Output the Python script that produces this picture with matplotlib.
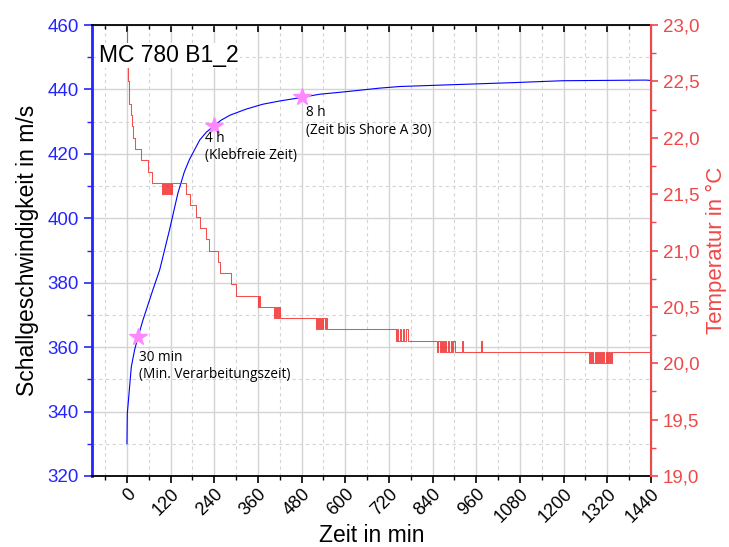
import matplotlib.pyplot as plt
from matplotlib.ticker import MultipleLocator, FuncFormatter

# Schallgeschwindigkeit (m/s) over time (min)
speed_time = [0, 1, 5, 12, 21, 30, 44, 62, 71, 90, 117, 140, 158, 172, 200, 218,
              236, 258, 283, 328, 373, 419, 474, 529, 602, 694, 749, 877, 1059, 1197, 1426, 1438]
speed_val = [330.0, 339.4, 344.6, 353.9, 359.1, 363.0, 368.4, 374.6, 377.7, 384.0,
             396.4, 407.8, 414.5, 418.3, 424.3, 426.7, 428.4, 430.4, 432.0, 433.9, 435.4, 436.4,
             437.4, 438.5, 439.3, 440.4, 440.9, 441.4, 442.1, 442.7, 442.9, 442.8]

# Temperatur (degC), sensor steps (step-post)
temp_time = [0, 1, 2, 3, 5, 7, 10, 14, 17, 21, 40, 58, 70,
             96, 98, 100, 103, 105, 108, 110, 113, 116, 119, 121, 124,
             161, 172, 190, 200, 218, 225, 250, 255, 287, 300,
             359, 361, 362, 364, 365,
             405, 407, 409, 411, 413, 415, 417, 419, 421, 424,
             520, 522, 525, 528, 531, 534, 537, 540, 544, 547, 551,
             740, 743, 746, 750, 754, 758, 762, 766, 771,
             853, 856, 859, 862, 865, 868, 871, 874, 878, 882, 886, 890, 893, 897, 901, 905,
             922, 924, 973, 975,
             1270, 1273, 1276, 1279, 1282, 1285, 1288, 1291, 1294, 1297, 1300, 1303,
             1306, 1309, 1312, 1315, 1318, 1321, 1324, 1327, 1330, 1334, 1440]
temp_val = [22.95, 22.7, 22.6, 22.5, 22.4, 22.3, 22.2, 22.1, 22.0, 21.9, 21.8, 21.7, 21.6,
            21.5, 21.6, 21.5, 21.6, 21.5, 21.6, 21.5, 21.6, 21.5, 21.6, 21.5, 21.6,
            21.5, 21.4, 21.3, 21.2, 21.1, 21.0, 20.9, 20.8, 20.7, 20.6,
            20.5, 20.6, 20.5, 20.6, 20.5,
            20.4, 20.5, 20.4, 20.5, 20.4, 20.5, 20.4, 20.5, 20.4, 20.4,
            20.3, 20.4, 20.3, 20.4, 20.3, 20.4, 20.3, 20.4, 20.3, 20.4, 20.3,
            20.2, 20.3, 20.2, 20.3, 20.2, 20.3, 20.2, 20.3, 20.2,
            20.1, 20.2, 20.1, 20.2, 20.1, 20.2, 20.1, 20.2, 20.1, 20.2, 20.1, 20.2, 20.1, 20.2, 20.1, 20.1,
            20.2, 20.1, 20.2, 20.1,
            20.0, 20.1, 20.0, 20.1, 20.0, 20.1, 20.0, 20.1, 20.0, 20.1, 20.0, 20.1,
            20.0, 20.1, 20.0, 20.1, 20.0, 20.1, 20.0, 20.1, 20.0, 20.1, 20.1]

# marked points
mark_time = [30, 240, 480]
mark_val = [363.0, 428.6, 437.6]
mark_text = ['30 min\n(Min. Verarbeitungszeit)', '4 h\n(Klebfreie Zeit)', '8 h\n(Zeit bis Shore A 30)']
text_pos = [(32, 359.2), (214, 427.2), (493, 435.2)]

xticks = list(range(0, 1441, 120))

blue = '#2424ff'
red = '#f04848'
font = 'Liberation Sans'

def main():
    plt.rcParams['font.family'] = font
    fig = plt.figure(figsize=(7.29, 5.47), dpi=100)
    ax = fig.add_axes([92 / 729, 1 - 476 / 547, (651 - 92) / 729, (476 - 25) / 547])
    ax2 = ax.twinx()

    ax.plot(speed_time, speed_val, color='#0000ff', lw=0.8, zorder=3)
    ax.plot(mark_time, mark_val, ls='none', marker='*', ms=13, color='#ff88ff', mec='#ff88ff', zorder=5)
    for (tx, ty), s in zip(text_pos, mark_text):
        ax.text(tx, ty, s, fontsize=9.8, family='Open Sans', va='top', ha='left', linespacing=1.25, zorder=6)

    ax2.plot(temp_time, temp_val, color='#f03030', lw=0.75, alpha=0.85, drawstyle='steps-post')

    ax.set_xlim(-96, 1440)
    ax.set_ylim(320, 460)
    ax2.set_ylim(19.0, 23.0)

    ax.set_xticks(xticks)
    ax.xaxis.set_minor_locator(MultipleLocator(60))
    ax.yaxis.set_major_locator(MultipleLocator(20))
    ax.yaxis.set_minor_locator(MultipleLocator(10))
    ax2.yaxis.set_major_locator(MultipleLocator(0.5))
    ax2.yaxis.set_minor_locator(MultipleLocator(0.25))
    ax2.yaxis.set_major_formatter(FuncFormatter(lambda v, p: ('%.1f' % v).replace('.', ',')))

    ax.grid(True, which='major', color='#d4d4d4', lw=1.0)
    ax.grid(True, which='minor', color='#d4d4d4', lw=0.8, ls=(0, (3, 3)))
    ax.set_axisbelow(True)

    for lab in ax.get_xticklabels():
        lab.set_rotation(45)
        lab.set_ha('right')
        lab.set_va('top')
        lab.set_rotation_mode('anchor')

    ax.tick_params(axis='x', which='major', direction='out', length=5, width=1.2, labelsize=13, top=True,
                   pad=2)
    ax.tick_params(axis='x', which='minor', direction='out', length=3, width=1.0, top=True)
    ax.tick_params(axis='y', which='major', direction='out', length=6, width=1.2, labelsize=13.5,
                   colors=blue)
    ax.tick_params(axis='y', which='minor', direction='out', length=3.5, width=1.0, colors=blue)
    ax2.tick_params(axis='y', which='major', direction='out', length=5, width=1.2, labelsize=13.5,
                    colors=red)
    ax2.tick_params(axis='y', which='minor', direction='out', length=3.5, width=1.0, colors=red)

    # top ticks point inward
    for t in ax.xaxis.get_major_ticks() + ax.xaxis.get_minor_ticks():
        t.tick2line.set_marker(3)

    ax.spines['left'].set_color(blue)
    ax.spines['left'].set_linewidth(2)
    ax.spines['bottom'].set_linewidth(1.3)
    ax.spines['top'].set_linewidth(1.3)
    ax2.spines['right'].set_color(red)
    ax2.spines['right'].set_linewidth(1.5)
    ax2.spines['left'].set_visible(False)
    ax2.spines['top'].set_visible(False)
    ax2.spines['bottom'].set_visible(False)

    ax.set_xlabel('Zeit in min', fontsize=16.5)
    ax.xaxis.set_label_coords(0.5, -0.106)
    ax.set_ylabel('Schallgeschwindigkeit in m/s', fontsize=16.5, labelpad=6)
    ax2.set_ylabel('Temperatur in °C', fontsize=16, color=red, labelpad=5)

    ax2.text(0.0125, 0.918, 'MC 780 B1_2', transform=ax2.transAxes, fontsize=16.5, va='baseline',
             ha='left', zorder=10, bbox=dict(facecolor='white', edgecolor='none', pad=1))

    fig.savefig('out.png', dpi=100)

if __name__ == '__main__':
    main()
